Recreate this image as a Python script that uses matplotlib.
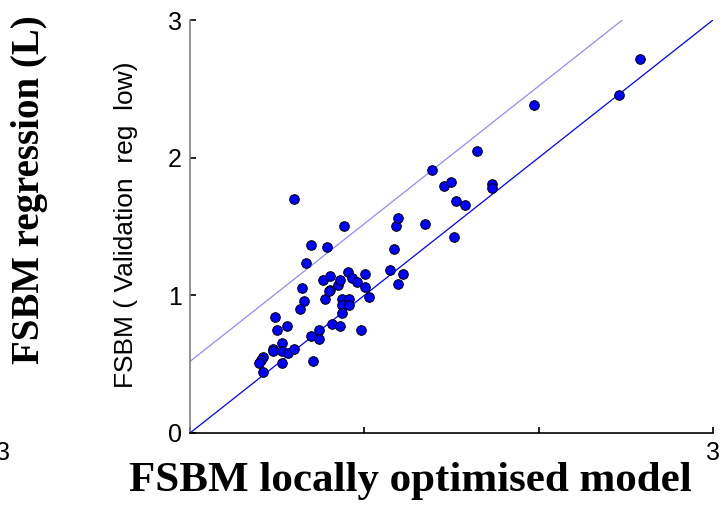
import matplotlib
matplotlib.use('Agg')
import matplotlib.pyplot as plt
import numpy as np

# values
x_vals = [0.597, 0.692, 0.788, 0.882, 0.667, 0.644, 0.656, 0.633, 0.490, 0.501,
          0.558, 0.526, 0.478, 0.478, 0.526, 0.560, 0.599, 0.417, 0.407, 0.394,
          0.526, 0.419, 0.704, 0.692, 0.742, 0.742, 0.813, 0.861, 0.776, 0.805,
          0.800, 0.763, 0.801, 0.847, 0.859, 0.872, 0.910, 0.872, 0.910, 0.872,
          0.908, 0.932, 0.957, 1.004, 1.004, 1.027, 0.979, 1.147, 1.172, 1.184,
          1.195, 1.220, 1.195, 1.350, 1.388, 1.457, 1.495, 1.528, 1.578, 1.517,
          1.648, 1.735, 1.735, 1.972, 2.463, 2.584]
y_vals = [1.700, 1.367, 1.353, 1.503, 1.232, 1.051, 0.959, 0.898, 0.840, 0.746,
          0.780, 0.656, 0.610, 0.598, 0.593, 0.579, 0.610, 0.552, 0.530, 0.508,
          0.506, 0.443, 0.523, 0.702, 0.746, 0.685, 0.794, 0.777, 0.975, 1.036,
          1.033, 1.113, 1.140, 1.077, 1.109, 0.975, 0.975, 0.927, 0.927, 0.869,
          1.171, 1.126, 1.094, 1.155, 1.063, 0.990, 0.746, 1.186, 1.338, 1.503,
          1.564, 1.155, 1.082, 1.520, 1.912, 1.791, 1.823, 1.685, 1.656, 1.426,
          2.048, 1.808, 1.777, 2.382, 2.457, 2.714]

# identity line and upper offset line
line_x = [0, 3]
line_y = [0, 3]
upper_x = [0, 2.48]
upper_y = [0.52, 3.0]

y_ticks = [0, 1, 2, 3]
x_ticks = [0, 1, 2, 3]
x_ticklabels = ['', '', '', '3']

fig = plt.figure(figsize=(7.2, 5.07), dpi=100)
ax = fig.add_axes([190 / 720, 1 - 433 / 507, 523 / 720, 413 / 507])

ax.plot(line_x, line_y, color='#0000ff', lw=0.9, zorder=2)
ax.plot(upper_x, upper_y, color='#8c8cff', lw=0.9, zorder=2)
ax.scatter(x_vals, y_vals, s=48, c='#0000ff', edgecolors='black',
           linewidths=0.7, zorder=3, clip_on=False)

ax.set_xlim(0, 3)
ax.set_ylim(0, 3)
ax.set_yticks(y_ticks)
ax.set_yticklabels([str(t) for t in y_ticks])
ax.set_xticks(x_ticks)
ax.set_xticklabels(x_ticklabels)

ax.tick_params(axis='both', direction='in', length=4, width=1.2, color='black')
ax.tick_params(axis='y', labelsize=18, pad=6, labelfontfamily='Liberation Sans')
ax.tick_params(axis='x', labelsize=18, pad=6, labelfontfamily='Liberation Sans')

for side in ['top', 'right']:
    ax.spines[side].set_visible(False)
ax.spines['left'].set_color('#808080')
ax.spines['left'].set_linewidth(1.2)
ax.spines['bottom'].set_color('black')
ax.spines['bottom'].set_linewidth(1.2)

fig.text(126 / 720, 1 - 225 / 507, 'FSBM ( Validation  reg  low)', fontsize=19,
         family='Liberation Sans', ha='center', va='center', rotation=90)

fig.text(410 / 720, 1 - 481 / 507, 'FSBM locally optimised model',
         family='Liberation Serif', fontweight='bold', fontsize=31,
         ha='center', va='center')
fig.text(30 / 720, 1 - 190 / 507, 'FSBM regression (L)',
         family='Liberation Serif', fontweight='bold', fontsize=28,
         ha='center', va='center', rotation=90)

# clipped tick label left over at the figure's left edge
fig.text(-0.006, 1 - 453 / 507, '3', family='Liberation Sans', fontsize=18,
         ha='left', va='center')

fig.savefig('out.png', dpi=100, facecolor='white')
